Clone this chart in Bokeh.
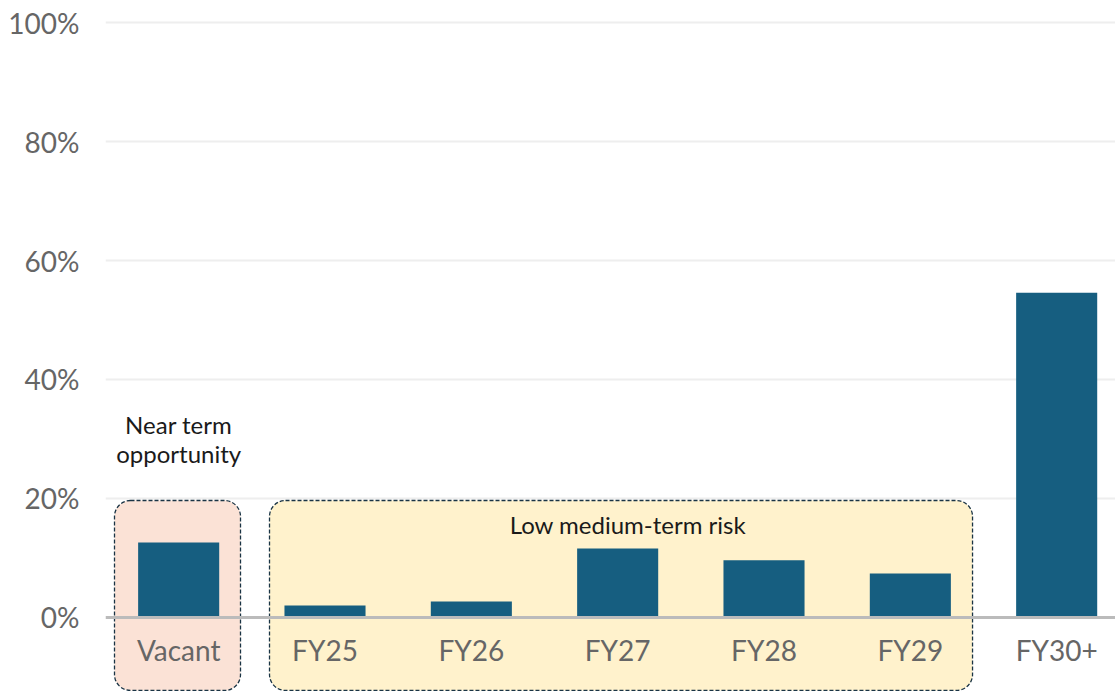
from bokeh.plotting import figure
from bokeh.models import (Range1d, FixedTicker, LinearAxis, BoxAnnotation,
                          ColumnDataSource, NumeralTickFormatter)
from bokeh.core.properties import value
from bokeh.embed import file_html
from bokeh.resources import INLINE

# ---- data ----
categories = ["Vacant", "FY25", "FY26", "FY27", "FY28", "FY29", "FY30+"]
share = [0.126, 0.020, 0.027, 0.116, 0.096, 0.074, 0.546]
y_ticks = [0, 0.2, 0.4, 0.6, 0.8, 1.0]
near_term_lines = ["Near term", "opportunity"]
risk_label = "Low medium-term risk"

FONT = "Lato"
BAR = "#165e80"

xs = list(range(len(categories)))

p = figure(width=1115, height=691, output_backend="svg", toolbar_location=None,
           x_range=Range1d(-0.5, 6.402), y_range=Range1d(-0.1244, 1.037),
           x_axis_location=None, min_border_left=105, min_border_right=0,
           min_border_top=0, min_border_bottom=0)
p.outline_line_color = None
p.background_fill_color = "white"
p.border_fill_color = "white"

# y axis
yax = p.yaxis[0]
yax.ticker = FixedTicker(ticks=y_ticks)
yax.formatter = NumeralTickFormatter(format="0%")
yax.axis_line_color = None
yax.major_tick_line_color = None
yax.minor_tick_line_color = None
yax.major_label_text_font = FONT
yax.major_label_text_font_size = "28px"
yax.major_label_text_color = "#666666"
yax.major_label_standoff = 20

p.xgrid.visible = False
p.ygrid.ticker = FixedTicker(ticks=y_ticks[1:])
p.ygrid.grid_line_color = "#eeeeee"
p.ygrid.grid_line_width = 2

# annotation boxes (behind bars)
box_style = dict(fill_alpha=1, line_color="#1a3445", line_alpha=1, line_width=1.3,
                 line_dash="4 2", border_radius=16, level="underlay")
pink = BoxAnnotation(left=-0.4385, right=0.4226, bottom=-0.1227, top=0.1966,
                     fill_color="#fbe2d6", **box_style)
yellow = BoxAnnotation(left=0.6208, right=5.425, bottom=-0.1227, top=0.1966,
                       fill_color="#fff2cc", **box_style)
p.add_layout(pink)
p.add_layout(yellow)

src = ColumnDataSource(dict(x=xs, top=share))
p.vbar(x="x", top="top", bottom=0, width=0.554, source=src,
       fill_color=BAR, line_color=None)

# x axis on the zero line
xax = LinearAxis(fixed_location=0)
xax.ticker = FixedTicker(ticks=xs)
xax.major_label_overrides = {i: c for i, c in enumerate(categories)}
xax.axis_line_color = "#bbbbbb"
xax.axis_line_width = 3
xax.major_tick_line_color = None
xax.minor_tick_line_color = None
xax.major_label_text_font = FONT
xax.major_label_text_font_size = "28px"
xax.major_label_text_color = "#666666"
xax.major_label_standoff = 10
p.add_layout(xax, "below")

# texts
p.text(x=[0, 0], y=[0.324, 0.275], text=near_term_lines,
       text_font=value(FONT), text_font_size="24px", text_color="#1a1a1a",
       text_align="center", text_baseline="middle")
p.text(x=[3.07], y=[0.157], text=[risk_label],
       text_font=value(FONT), text_font_size="24px", text_color="#1a1a1a",
       text_align="center", text_baseline="middle")

open("out.html", "w").write(file_html(p, INLINE))
